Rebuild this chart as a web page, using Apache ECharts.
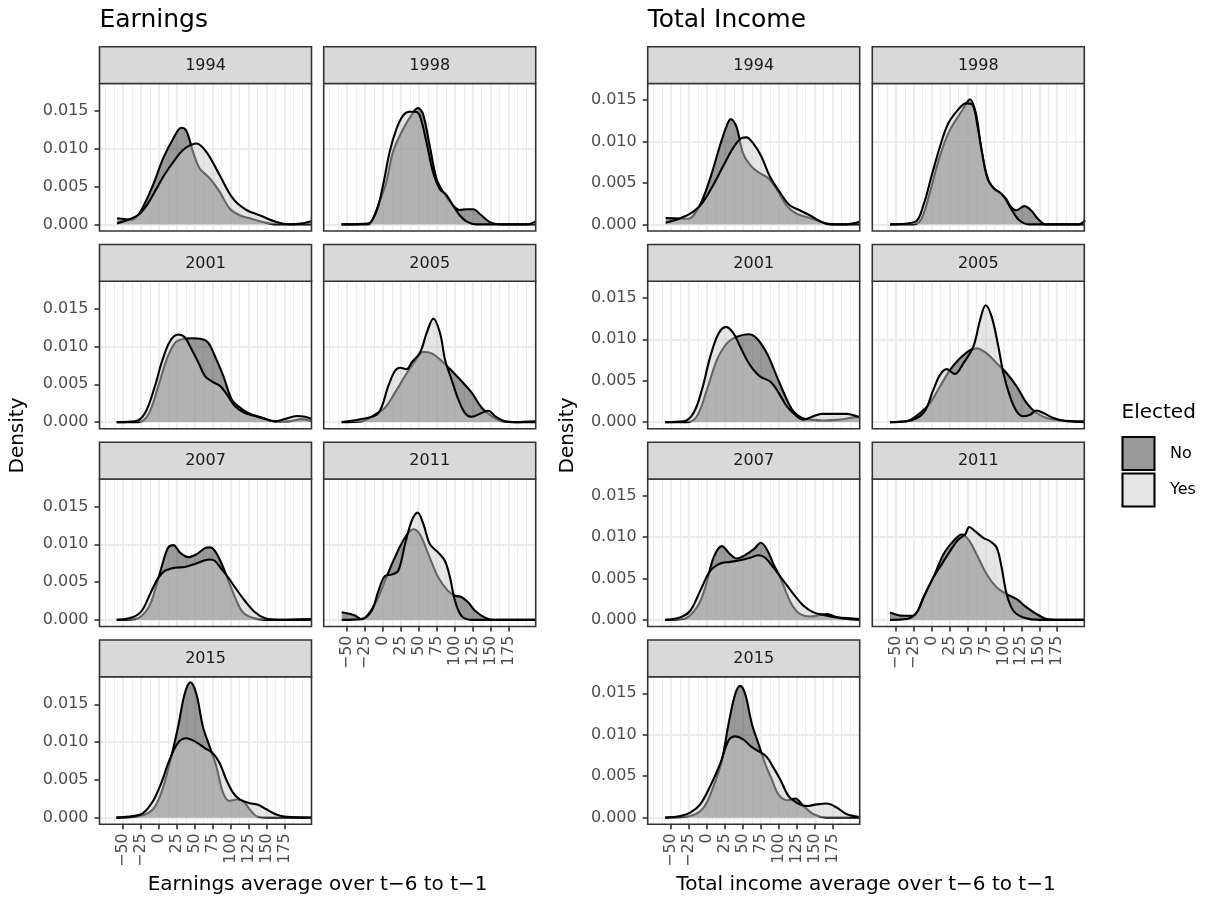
<!DOCTYPE html>
<html>
<head>
<meta charset="utf-8">
<script src="https://cdn.jsdelivr.net/npm/echarts@6/dist/echarts.min.js"></script>
<style>
  html, body { margin: 0; padding: 0; background: #ffffff; }
  #chart { width: 1211px; height: 900px; }
</style>
</head>
<body>
<div id="chart"></div>
<script>
// Facet years, in panel order
const years = ['1994', '1998', '2001', '2005', '2007', '2011', '2015'];
const xTicks = [-50, -25, 0, 25, 50, 75, 100, 125, 150, 175];
const yTicks = [0, 0.005, 0.010, 0.015];
const fillLevels = ['No', 'Yes'];

// Earnings: kernel density estimates, [average, density]
const earnNo1994 = [[-58.4,0.0008],[-48,0.0007],[-38.4,0.0006],[-30,0.0011],[-22.1,0.0023],[-8.2,0.0052],[5.8,0.0087],[19.7,0.0113],[31.3,0.0128],[38.3,0.0124],[47.6,0.0096],[56.9,0.0074],[70.8,0.0061],[84.8,0.0043],[98.7,0.0021],[112.6,0.0012],[126.6,0.0008],[145,0.0003],[164,0],[213,0]];
const earnYes1994 = [[-58.4,0.00013],[-40,0.0007],[-26.8,0.0014],[-15,0.0028],[-3.5,0.0047],[8,0.0066],[19.7,0.0082],[30,0.0095],[38.3,0.0102],[52.2,0.0107],[66.2,0.0096],[84.8,0.0065],[103.4,0.0034],[122,0.0019],[140.5,0.0012],[163.8,0.0003],[182,0],[198,0.0001],[213,0.0004]];
const earnNo1998 = [[-58,0],[-20,0],[-14,0.0008],[-5,0.003],[4.6,0.0056],[13.9,0.0096],[27.8,0.0126],[41.8,0.0148],[48.7,0.0154],[55.7,0.0146],[65,0.0104],[74.3,0.0061],[83.6,0.0043],[97.5,0.0025],[106.8,0.0019],[116.1,0.002],[125.4,0.002],[137,0.0012],[148.7,0.0003],[162.6,0],[213,0]];
const earnYes1998 = [[-58,0],[-21,0.0001],[-9.3,0.0017],[0,0.0052],[9.2,0.0096],[18.5,0.0126],[27.8,0.0144],[37.1,0.0149],[44.1,0.0149],[51.1,0.0144],[60.4,0.0109],[69.7,0.0069],[79,0.0047],[88.2,0.0039],[97.5,0.0025],[106.8,0.0012],[116.1,0.0004],[130,0],[200,0],[213,0.0004]];
const earnNo2001 = [[-58.8,0],[-28.6,0],[-14.7,0.001],[-0.7,0.0048],[10.9,0.0083],[22.5,0.0105],[34.1,0.011],[45.7,0.0111],[59.7,0.011],[69,0.0105],[78.3,0.0087],[89.9,0.0061],[101.5,0.003],[110.8,0.0021],[124.7,0.0012],[143.3,0.0006],[162,0.0001],[180,0.0001],[199,0.0004],[213,0.0001]];
const earnYes2001 = [[-58.8,0],[-33.3,0.0001],[-19.3,0.0012],[-5.4,0.0048],[3.9,0.0079],[15.5,0.0107],[27.1,0.0116],[36.4,0.0112],[45.7,0.0096],[55,0.0079],[64.3,0.0061],[73.6,0.0054],[85.2,0.0048],[94.5,0.0037],[106.1,0.0021],[120.1,0.0012],[134,0.0008],[148,0.0004],[161.9,0.0001],[175.8,0.0004],[192.1,0.0008],[203.7,0.0007],[213,0.0004]];
const earnNo2005 = [[-57.7,0],[-29.8,0.0001],[-11.3,0.001],[2.7,0.0019],[16.6,0.0039],[30.6,0.0061],[44.5,0.0081],[56.1,0.0093],[67.8,0.0091],[81.7,0.0081],[95.6,0.0068],[109.6,0.0054],[123.5,0.0039],[137.5,0.0019],[151.4,0.0008],[165.4,0.0001],[179.3,0],[213,0]];
const earnYes2005 = [[-57.7,0],[-29.8,0.0004],[-6.6,0.0012],[7.3,0.0048],[16.6,0.0068],[23.6,0.0072],[32.9,0.007],[39.9,0.0079],[51.5,0.0092],[60.8,0.0118],[70.1,0.0137],[79.4,0.0118],[86.3,0.0083],[95.6,0.0056],[104.9,0.003],[114.2,0.0012],[123.5,0.0007],[137.5,0.0012],[146.8,0.0015],[156.1,0.0008],[170,0.0001],[184,0],[213,0.0001]];
const earnNo2007 = [[-58.8,0],[-33.3,0.0001],[-14.7,0.0016],[-3.1,0.0047],[6.2,0.0078],[13.2,0.0096],[20.2,0.0099],[29.5,0.0089],[41.1,0.0083],[52.7,0.0087],[64.3,0.0095],[71.3,0.0096],[78.3,0.0091],[87.6,0.0074],[96.8,0.0052],[106.1,0.003],[115.4,0.0012],[124.7,0.0005],[138.7,0.0001],[152.6,0],[213,0]];
const earnYes2007 = [[-58.8,0],[-37.9,0.0003],[-24,0.0012],[-12.4,0.0034],[-0.7,0.0056],[8.6,0.0065],[22.5,0.0069],[36.4,0.007],[50.4,0.0074],[64.3,0.0079],[71.3,0.008],[78.3,0.0078],[87.6,0.0067],[96.8,0.0056],[106.1,0.0043],[120.1,0.0025],[134,0.001],[148,0.0002],[166.5,0],[213,0.0001]];
const earnNo2011 = [[-57.7,0.001],[-40,0.0006],[-29.8,0.0001],[-11.3,0.0021],[2.7,0.0052],[16.6,0.0083],[30.6,0.0109],[42.2,0.012],[51.5,0.0113],[63.1,0.0087],[77,0.0056],[91,0.0038],[100.3,0.0032],[109.6,0.003],[118.9,0.0023],[128.2,0.0012],[142.1,0.0003],[156.1,0],[213,0]];
const earnYes2011 = [[-57.7,0],[-29.8,0.0001],[-15.9,0.0012],[-6.6,0.0038],[2.7,0.0058],[12,0.006],[21.2,0.0065],[30.6,0.01],[39.9,0.0131],[48.2,0.0142],[56.1,0.0127],[65.4,0.01],[77,0.0089],[86.3,0.0078],[93.3,0.0056],[100.3,0.0025],[109.6,0.0005],[123.5,0],[213,0]];
const earnNo2015 = [[-59.3,0],[-26.8,0.0002],[-8.2,0.0011],[3.4,0.0033],[15.1,0.0072],[26.7,0.012],[36,0.0164],[43.9,0.0179],[52.2,0.0164],[61.5,0.012],[70.8,0.0094],[80.1,0.0068],[89.4,0.0033],[98.7,0.0022],[108,0.0024],[117.3,0.0022],[126.6,0.0011],[135.9,0.0002],[150,0],[213,0]];
const earnYes2015 = [[-59.3,0],[-36.1,0.0002],[-22.1,0.0006],[-8.2,0.0022],[3.4,0.0046],[15.1,0.0077],[26.7,0.0099],[38.3,0.0105],[49.9,0.0101],[63.9,0.0092],[75.5,0.0085],[84.8,0.0072],[94.1,0.005],[103.4,0.0033],[112.6,0.0024],[126.6,0.0019],[138.2,0.0017],[149.8,0.0011],[163.8,0.0004],[177.7,0.0001],[213,0]];

// Total income: kernel density estimates, [average, density]
const totNo1994 = [[-57.7,0.00076],[-38.2,0.0007],[-26.5,0.00068],[-10.3,0.0023],[3.7,0.0054],[17.6,0.0094],[26.9,0.0118],[33,0.0127],[40.9,0.0118],[50.1,0.0086],[61.7,0.007],[73.4,0.0062],[85,0.0056],[96.7,0.0043],[110.6,0.0023],[124.5,0.0013],[138.4,0.0009],[152.3,0.0005],[166.3,0.0001],[180,0],[213,0]];
const totYes1994 = [[-57.7,0.0002],[-38.2,0.0007],[-19.6,0.0015],[-5.6,0.0027],[8.3,0.0047],[22.3,0.007],[36.2,0.0092],[47.8,0.0104],[54.8,0.0105],[64.1,0.0098],[75.7,0.0082],[87.4,0.0058],[101.3,0.0039],[115.2,0.0023],[129.1,0.0017],[143,0.0011],[157,0.0004],[171,0],[194,0],[213,0.0003]];
const totNo1998 = [[-58,0],[-25,0],[-14,0.0007],[-2.3,0.0039],[11.6,0.0083],[25.5,0.0114],[43,0.0138],[53.3,0.0151],[61.6,0.0134],[68.6,0.0094],[75.6,0.0063],[82.6,0.0047],[89.6,0.0041],[96.6,0.0037],[103.6,0.0031],[110.6,0.0021],[117.6,0.0017],[129.2,0.0022],[138.5,0.0017],[147.8,0.0007],[159.4,0],[213,0]];
const totYes1998 = [[-58,0],[-23.2,0.0003],[-11.6,0.0023],[0,0.0059],[11.6,0.0094],[23.2,0.0122],[38.4,0.014],[47.7,0.0146],[57,0.0144],[64,0.0118],[71,0.0083],[78,0.0055],[87.3,0.0043],[94.3,0.0039],[101.2,0.0033],[110.6,0.0019],[122.2,0.0005],[136.2,0],[205,0],[214,0.0005]];
const totNo2001 = [[-58.4,0],[-28.2,0],[-14.2,0.0007],[-0.3,0.0039],[13.7,0.0075],[27.6,0.0095],[41.5,0.0103],[57.8,0.0106],[69.4,0.0101],[83.4,0.0083],[97.3,0.0055],[111.3,0.0027],[120.5,0.0013],[132.2,0.0005],[143.8,0.0003],[162.4,0.0002],[185.6,0.0003],[208.8,0.0006],[213,0.0006]];
const totYes2001 = [[-58.4,0],[-32.8,0.0001],[-18.9,0.0011],[-7.2,0.0039],[4.4,0.0079],[16,0.0107],[26.7,0.0115],[36.9,0.0107],[46.2,0.0091],[55.5,0.0075],[64.8,0.0063],[74.1,0.0055],[88,0.0049],[97.3,0.0039],[111.3,0.0019],[125.2,0.0007],[134.5,0.0003],[148.4,0.0007],[160,0.001],[176.3,0.001],[194.9,0.001],[208.8,0.0007],[213,0.0006]];
const totNo2005 = [[-58.1,0],[-34.8,0.0001],[-16.3,0.0011],[-2.3,0.0023],[11.6,0.0043],[25.6,0.0063],[39.5,0.0077],[53.4,0.0087],[62.7,0.0089],[76.7,0.0083],[90.7,0.0071],[104.6,0.0059],[118.5,0.0043],[132.4,0.0023],[146.4,0.0011],[160.3,0.0005],[178.9,0.0002],[213,0.0001]];
const totYes2005 = [[-58.1,0],[-34.8,0.0001],[-11.6,0.0011],[2.3,0.0039],[11.6,0.0057],[20.9,0.0064],[32.5,0.0058],[44.2,0.0071],[58.1,0.0091],[67.4,0.0123],[75.3,0.0141],[83.7,0.0127],[93,0.0091],[100,0.0059],[109.2,0.0031],[118.5,0.0013],[127.8,0.0007],[137.1,0.0009],[146.4,0.0014],[155.7,0.0011],[169.6,0.0005],[188.2,0.0001],[213,0]];
const totNo2007 = [[-58.4,0],[-32.8,0.0001],[-14.2,0.0015],[-2.6,0.0039],[9,0.0075],[20.6,0.0089],[32.3,0.0079],[41.5,0.0074],[50.8,0.0077],[64.8,0.0085],[74.9,0.0093],[83.4,0.0085],[92.7,0.0067],[102,0.0051],[111.3,0.0031],[120.5,0.0015],[129.8,0.0007],[143.8,0.0004],[157.7,0.0006],[167,0.0007],[181,0.0003],[194.9,0.0001],[213,0]];
const totYes2007 = [[-58.4,0],[-37.5,0.0003],[-23.5,0.0011],[-9.6,0.0035],[4.4,0.0059],[18.3,0.0068],[32.3,0.007],[46.2,0.0072],[60.1,0.0075],[71.7,0.0078],[81,0.0075],[92.7,0.0063],[106.6,0.0047],[120.5,0.0031],[134.5,0.0017],[148.4,0.0009],[162.4,0.0006],[181,0.0003],[213,0.0001]];
const totNo2011 = [[-58.1,0.0009],[-39.6,0.0005],[-25.6,0.0005],[-11.6,0.0027],[2.3,0.0051],[16.3,0.0079],[30.2,0.0095],[41.8,0.0103],[51.1,0.0097],[62.7,0.0079],[76.7,0.0055],[90.7,0.0039],[104.6,0.0031],[118.5,0.0025],[132.4,0.0015],[146.4,0.0007],[160.3,0.0001],[178.9,0],[213,0]];
const totYes2011 = [[-58.1,0],[-34.8,0.0001],[-20.9,0.0009],[-9.3,0.0031],[2.3,0.0051],[13.9,0.0067],[25.6,0.0083],[37.2,0.0097],[46.5,0.0103],[52.5,0.0112],[60.4,0.0107],[72,0.0099],[81.3,0.0095],[90.7,0.0087],[97.6,0.0063],[104.6,0.0031],[113.9,0.0011],[127.8,0.0003],[151,0],[213,0]];
const totNo2015 = [[-58.4,0],[-23.5,0.0002],[-4.9,0.0012],[9,0.0038],[20.6,0.0069],[29.9,0.0113],[39.2,0.0149],[46.2,0.0159],[53.2,0.0149],[62.5,0.0113],[71.7,0.0089],[81,0.0065],[90.3,0.0046],[99.6,0.0028],[111.3,0.0021],[122.9,0.0023],[134.5,0.0014],[148.4,0.0004],[167,0],[213,0]];
const totYes2015 = [[-58.4,0],[-37.5,0.0002],[-23.5,0.0006],[-9.6,0.0016],[4.4,0.0038],[18.3,0.0065],[29.9,0.0093],[39.2,0.0098],[50.8,0.0094],[62.5,0.0085],[74.1,0.0079],[83.4,0.0073],[92.7,0.006],[102,0.0046],[113.6,0.0026],[125.2,0.0018],[139.1,0.0014],[153,0.0016],[167,0.0017],[181,0.0012],[194.9,0.0004],[211.2,0.0001]];

const earnNo = [earnNo1994, earnNo1998, earnNo2001, earnNo2005, earnNo2007, earnNo2011, earnNo2015];
const earnYes = [earnYes1994, earnYes1998, earnYes2001, earnYes2005, earnYes2007, earnYes2011, earnYes2015];
const totNo = [totNo1994, totNo1998, totNo2001, totNo2005, totNo2007, totNo2011, totNo2015];
const totYes = [totYes1994, totYes1998, totYes2001, totYes2005, totYes2007, totYes2011, totYes2015];

// ---- appearance ----
const FONT = '"DejaVu Sans", "Liberation Sans", sans-serif';
const NO_FILL = 'rgba(51,51,51,0.5)';
const YES_FILL = 'rgba(204,204,204,0.5)';
const BORDER = '#333333';
const GRID_COL = '#EBEBEB';
const X_RANGE = [-82.8, 212.8];

const groups = [
  { title: 'Earnings', xTitle: 'Earnings average over t\u22126 to t\u22121', no: earnNo, yes: earnYes,
    cols: [99.5, 323.7], yRange: [-0.00088, 0.01865], yTitleX: 18 },
  { title: 'Total Income', xTitle: 'Total income average over t\u22126 to t\u22121', no: totNo, yes: totYes,
    cols: [647.7, 872.3], yRange: [-0.0008, 0.0170], yTitleX: 568 }
];
const PANEL_W = 212, PANEL_H = 147.5, STRIP_H = 36.7;
const rowTops = [83.5, 281.25, 479, 676.75];

const fmtX = v => (v < 0 ? '\u2212' + Math.abs(v) : String(v));

const grid = [], xAxis = [], yAxis = [], series = [], graphic = [];

groups.forEach((g, gi) => {
  // minor breaks halfway between the major ones
  const minorX = [];
  for (let v = -75; v <= 200; v += 12.5) if (!xTicks.includes(v)) minorX.push(v);
  const minorY = [0.0025, 0.0075, 0.0125, 0.0175].filter(v => v < g.yRange[1]);

  years.forEach((yr, i) => {
    const row = Math.floor(i / 2), col = i % 2;
    const k = grid.length;
    const left = g.cols[col], top = rowTops[row];
    const showX = (col === 0 && i === 6) || (col === 1 && i === 5);
    const showY = col === 0;

    grid.push({ left, top, width: PANEL_W, height: PANEL_H, show: true,
      backgroundColor: '#ffffff', borderWidth: 0, containLabel: false });

    xAxis.push({
      type: 'value', gridIndex: k, min: X_RANGE[0], max: X_RANGE[1], position: 'bottom',
      axisLine: { show: false, onZero: false }, splitLine: { show: false },
      axisTick: { show: showX, customValues: xTicks, length: 5, lineStyle: { color: BORDER, width: 1.6 } },
      axisLabel: { show: showX, customValues: xTicks, rotate: 90, margin: 9, formatter: fmtX,
        color: '#4D4D4D', fontSize: 16, fontFamily: FONT }
    });
    yAxis.push({
      type: 'value', gridIndex: k, min: g.yRange[0], max: g.yRange[1], position: 'left',
      axisLine: { show: false, onZero: false }, splitLine: { show: false },
      axisTick: { show: showY, customValues: yTicks, length: 5, lineStyle: { color: BORDER, width: 1.6 } },
      axisLabel: { show: showY, customValues: yTicks, margin: 11, formatter: v => v.toFixed(3),
        color: '#4D4D4D', fontSize: 16, fontFamily: FONT }
    });

    // panel grid lines
    const lines = [];
    minorX.forEach(v => lines.push({ xAxis: v, lineStyle: { width: 0.9 } }));
    minorY.forEach(v => lines.push({ yAxis: v, lineStyle: { width: 0.9 } }));
    xTicks.forEach(v => lines.push({ xAxis: v, lineStyle: { width: 1.8 } }));
    yTicks.forEach(v => lines.push({ yAxis: v, lineStyle: { width: 1.8 } }));
    series.push({
      type: 'line', xAxisIndex: k, yAxisIndex: k, data: [], silent: true, z: 1, animation: false,
      markLine: { z: 1, silent: true, animation: false, symbol: ['none', 'none'], label: { show: false },
        lineStyle: { color: GRID_COL, type: 'solid' }, emphasis: { disabled: true }, data: lines }
    });

    const dens = [g.no[i], g.yes[i]];
    dens.forEach((pts, s) => {
      series.push({
        name: fillLevels[s], type: 'line', xAxisIndex: k, yAxisIndex: k, data: pts,
        smooth: 0.35, showSymbol: false, symbol: 'none', silent: true, animation: false, clip: true,
        z: 3 + s,
        lineStyle: { color: '#000000', width: 2.1 },
        areaStyle: { color: s === 0 ? NO_FILL : YES_FILL, origin: 'auto', opacity: 1 }
      });
    });

    // panel border, drawn above the data
    graphic.push({ type: 'rect', z: 20, silent: true,
      shape: { x: left, y: top, width: PANEL_W, height: PANEL_H },
      style: { fill: null, stroke: BORDER, lineWidth: 1.6 } });
    // facet strip
    graphic.push({ type: 'rect', z: 20, silent: true,
      shape: { x: left, y: top - STRIP_H, width: PANEL_W, height: STRIP_H },
      style: { fill: '#D9D9D9', stroke: BORDER, lineWidth: 1.6 } });
    graphic.push({ type: 'text', z: 21, silent: true, x: left + PANEL_W / 2, y: top - STRIP_H / 2 + 0.5,
      style: { text: yr, fill: '#1A1A1A', fontSize: 16, fontFamily: FONT, align: 'center', verticalAlign: 'middle' } });
  });

  // group title and axis titles
  graphic.push({ type: 'text', silent: true, x: g.cols[0], y: 20,
    style: { text: g.title, fill: '#000000', fontSize: 25, fontFamily: FONT, align: 'left', verticalAlign: 'middle' } });
  graphic.push({ type: 'text', silent: true, x: (g.cols[0] + g.cols[1] + PANEL_W) / 2, y: 885,
    style: { text: g.xTitle, fill: '#000000', fontSize: 20, fontFamily: FONT, align: 'center', verticalAlign: 'middle' } });
  graphic.push({ type: 'text', silent: true, x: g.yTitleX, y: 435.5, rotation: Math.PI / 2,
    style: { text: 'Density', fill: '#000000', fontSize: 20, fontFamily: FONT, align: 'center', verticalAlign: 'middle' } });
});

// legend: Elected
graphic.push({ type: 'text', silent: true, x: 1121.5, y: 413,
  style: { text: 'Elected', fill: '#000000', fontSize: 20, fontFamily: FONT, align: 'left', verticalAlign: 'middle' } });
[NO_FILL, YES_FILL].forEach((c, j) => {
  const y0 = 437 + j * 36.5;
  graphic.push({ type: 'rect', silent: true, shape: { x: 1122.5, y: y0, width: 32, height: 33 },
    style: { fill: c, stroke: '#000000', lineWidth: 2.1 } });
  graphic.push({ type: 'text', silent: true, x: 1170, y: y0 + 16.5,
    style: { text: fillLevels[j], fill: '#000000', fontSize: 16, fontFamily: FONT, align: 'left', verticalAlign: 'middle' } });
});

const chart = echarts.init(document.getElementById('chart'), null, { renderer: 'canvas' });
chart.setOption({
  backgroundColor: '#ffffff',
  animation: false,
  grid, xAxis, yAxis, series, graphic
});
</script>
</body>
</html>
